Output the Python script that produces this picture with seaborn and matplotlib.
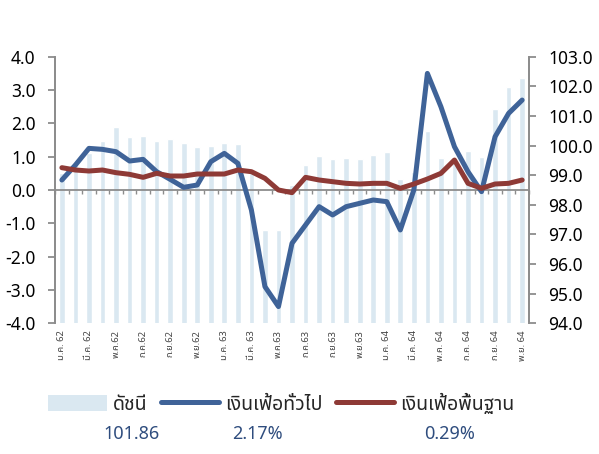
"""CPI index with headline and core inflation (Thai), Jan 2019 - Nov 2021."""

import matplotlib

matplotlib.use("Agg")
import matplotlib.pyplot as plt
import numpy as np
import seaborn as sns
from matplotlib import font_manager
from matplotlib.ft2font import FT2Font
from matplotlib.lines import Line2D
from matplotlib.patches import Patch

months = [
    "ม.ค. 62", "ก.พ. 62", "มี.ค. 62", "เม.ย. 62", "พ.ค.62", "มิ.ย.62",
    "ก.ค.62", "ส.ค.62", "ก.ย.62", "ต.ค.62", "พ.ย.62", "ธ.ค.62",
    "ม.ค. 63", "ก.พ. 63", "มี.ค. 63", "เม.ย. 63", "พ.ค.63", "มิ.ย.63",
    "ก.ค.63", "ส.ค.63", "ก.ย.63", "ต.ค.63", "พ.ย.63", "ธ.ค.63",
    "ม.ค. 64", "ก.พ. 64", "มี.ค. 64", "เม.ย. 64", "พ.ค. 64", "มิ.ย. 64",
    "ก.ค. 64", "ส.ค. 64", "ก.ย. 64", "ต.ค. 64", "พ.ย. 64",
]
cpi_index = [
    99.07, 99.40, 99.75, 100.16, 100.64, 100.28, 100.33, 100.15, 100.22,
    100.08, 99.95, 99.98, 100.10, 100.04, 99.07, 97.15, 97.15, 98.67,
    99.34, 99.65, 99.53, 99.59, 99.54, 99.68, 99.79, 98.86, 99.12,
    100.50, 99.57, 99.58, 99.81, 99.62, 101.22, 101.99, 102.27,
]
headline = [
    0.30, 0.75, 1.25, 1.22, 1.15, 0.87, 0.92, 0.55, 0.32, 0.08, 0.15, 0.85,
    1.10, 0.80, -0.60, -2.90, -3.50, -1.60, -1.05, -0.50, -0.75, -0.50,
    -0.40, -0.30, -0.35, -1.20, 0.00, 3.50, 2.50, 1.30, 0.55, -0.05,
    1.60, 2.30, 2.70,
]
core = [
    0.67, 0.60, 0.57, 0.60, 0.52, 0.47, 0.38, 0.50, 0.42, 0.42, 0.48, 0.48,
    0.48, 0.60, 0.55, 0.35, 0.00, -0.08, 0.38, 0.30, 0.25, 0.20, 0.18, 0.20,
    0.20, 0.05, 0.18, 0.33, 0.50, 0.90, 0.20, 0.05, 0.18, 0.20, 0.30,
]
legend_labels = ["ดัชนี", "เงินเฟ้อทั่วไป", "เงินเฟ้อพื้นฐาน"]
latest_values = ["101.86", "2.17%", "0.29%"]

BAR_COLOR = "#dae8f1"
BLUE = "#3f6398"
RED = "#8e3a36"
GREY = "#8c8c8c"
VALUE_COLOR = "#2f4d7e"


def find_thai_font():
    """Return the name of an installed font that has Thai glyphs, if any."""
    names = []
    for entry in font_manager.fontManager.ttflist:
        try:
            if 0x0E01 in FT2Font(entry.fname).get_charmap():
                names.append(entry.name)
        except Exception:
            continue
    for pref in ("Noto Sans Thai", "Noto Sans Thai UI", "Tahoma", "Loma", "Garuda"):
        if pref in names:
            return pref
    return names[0] if names else None


sns.set_theme(style="white")
thai_font = find_thai_font()
plt.rcParams["font.family"] = ([thai_font] if thai_font else []) + ["DejaVu Sans"]

fig = plt.figure(figsize=(5.99, 4.54), dpi=100)
ax = fig.add_axes([0.092, 0.288, 0.791, 0.587])
axr = ax.twinx()
axr.set_zorder(ax.get_zorder() - 1)
ax.patch.set_visible(False)

x = np.arange(len(months))
line_kw = dict(lw=3.6, solid_capstyle="round", solid_joinstyle="round")
sns.barplot(x=months, y=cpi_index, color=BAR_COLOR, saturation=1, width=0.42, ax=axr)
sns.lineplot(x=x, y=headline, color=BLUE, ax=ax, **line_kw)
sns.lineplot(x=x, y=core, color=RED, ax=ax, **line_kw)

ax.set_xlim(-0.5, len(months) - 0.5)
ax.set_ylim(-4, 4)
axr.set_ylim(94, 103)
ax.set_yticks(np.arange(-4, 4.1, 1))
ax.set_yticklabels([f"{v:.1f}" for v in np.arange(-4, 4.1, 1)])
axr.set_yticks(np.arange(94, 103.1, 1))
axr.set_yticklabels([f"{v:.1f}" for v in np.arange(94, 103.1, 1)])

# month labels every second month, at the bottom of the chart
ax.set_xticks(x[::2])
ax.set_xticklabels(months[::2], rotation=90, fontsize=6.8, color="#444444")
axr.tick_params(axis="x", length=0, labelbottom=False)
ax.tick_params(axis="x", length=0, pad=5)
ax.tick_params(axis="y", direction="out", length=5, width=1.3, color=GREY,
               labelsize=12.5, pad=9, labelcolor="black")
axr.tick_params(axis="y", direction="out", length=5, width=1.3, color=GREY,
                labelsize=12.5, pad=9, labelcolor="black")
ax.set_xlabel("")
ax.set_ylabel("")
axr.set_ylabel("")

for a in (ax, axr):
    for side in ("top", "bottom"):
        a.spines[side].set_visible(False)
    for side in ("left", "right"):
        a.spines[side].set_color(GREY)
        a.spines[side].set_linewidth(1.3)

# zero line with small ticks between months
zero = ax.secondary_xaxis(0.5)
zero.set_xticks(np.arange(-0.5, len(months), 1))
zero.set_xticklabels([])
zero.tick_params(axis="x", which="both", direction="out", length=3, width=1,
                 color=GREY, bottom=True, top=False, labelbottom=False, labeltop=False)
for spine in zero.spines.values():
    spine.set_color(GREY)
    spine.set_linewidth(1.3)

handles = [
    Patch(facecolor=BAR_COLOR, edgecolor="none"),
    Line2D([], [], color=BLUE, **line_kw),
    Line2D([], [], color=RED, **line_kw),
]
fig.legend(handles, legend_labels, loc="center", bbox_to_anchor=(0.47, 0.11),
           ncol=3, frameon=False, fontsize=14, handlelength=3.0, handleheight=0.85,
           handletextpad=0.3, columnspacing=0.7)

for label, xpos in zip(latest_values, [0.219, 0.429, 0.751]):
    fig.text(xpos, 0.043, label, ha="center", va="center", fontsize=13, color=VALUE_COLOR)

fig.savefig("out.png", dpi=100)
